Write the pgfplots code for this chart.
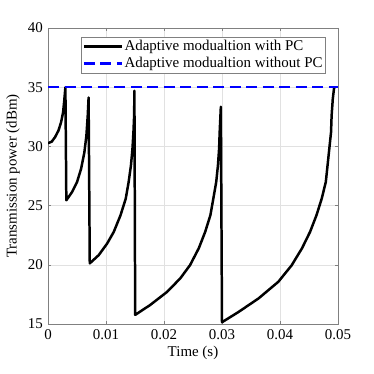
\documentclass[border=0pt]{standalone}
\usepackage{fontspec}
\setmainfont{Liberation Serif}
\usepackage{pgfplots}
\pgfplotsset{compat=1.18}

\definecolor{gridgray}{RGB}{225,225,225}
\definecolor{axgray}{RGB}{128,128,128}

\begin{document}
\fontsize{15}{18}\selectfont
\begin{tikzpicture}
\path[use as bounding box] (-48bp,-50bp) rectangle (326bp,324bp);
\begin{axis}[
  at={(0,0)}, anchor=south west,
  scale only axis,
  width=290bp, height=296bp,
  xmin=0, xmax=0.05, ymin=15, ymax=40,
  xtick={0,0.01,0.02,0.03,0.04,0.05},
  xticklabels={0,0.01,0.02,0.03,0.04,0.05},
  scaled x ticks=false,
  ytick={15,20,25,30,35,40},
  /pgf/number format/assume math mode=true,
  ticklabel style={font=\fontsize{15}{18}\selectfont},
  label style={font=\fontsize{15}{18}\selectfont},
  xlabel={Time (s)},
  ylabel={Transmission power (dBm)},
  xlabel style={yshift=3bp},
  ylabel style={yshift=-2bp},
  grid=major,
  grid style={gridgray, line width=0.6pt},
  axis line style={axgray, line width=0.6pt},
  tick style={axgray, line width=0.6pt},
  tick align=inside,
  major tick length=3bp,
  legend cell align=left,
  legend style={at={(0.958,0.97)}, anchor=north east,
    draw=axgray, line width=0.6pt,
    font=\fontsize{15}{16}\selectfont,
    inner sep=1.5pt, row sep=1.5pt,
    nodes={inner sep=1.5pt},
    legend image code/.code={\draw[#1] (0bp,0bp) -- (38bp,0bp);}},
]
\addplot[black, line width=2.5pt, line join=round] coordinates {
  (0,30.27) (0.00064,30.4) (0.0012,30.77) (0.0018,31.33) (0.00225,32.03) (0.0026,32.87) (0.0028,33.86) (0.0030,35.0)
  (0.00316,25.45)
  (0.00414,26.14) (0.0050,26.98) (0.0057,28.1) (0.00627,29.5) (0.00662,30.9) (0.00685,32.6) (0.0070,34.13)
  (0.0072,20.12)
  (0.00875,20.82) (0.0102,21.8) (0.01134,22.78) (0.0125,24.18) (0.0134,25.58) (0.0139,26.98) (0.0143,28.39) (0.01456,29.79) (0.01473,31.19) (0.01485,32.6) (0.0149,34.7)
  (0.01503,15.77)
  (0.0176,16.6) (0.0205,17.7) (0.0228,18.85) (0.0245,19.98) (0.0260,21.4) (0.0271,22.78) (0.0280,24.19) (0.0285,25.58) (0.0290,26.98) (0.0293,28.39) (0.0295,29.8) (0.0296,31.2) (0.0298,33.35)
  (0.0300,15.15)
  (0.0328,16.0) (0.0363,17.16) (0.0397,18.56) (0.0420,19.95) (0.0438,21.4) (0.0452,22.8) (0.0463,24.2) (0.0472,25.6) (0.0479,27.0) (0.0482,28.4) (0.0485,29.8) (0.0488,31.2) (0.0489,32.6) (0.0491,34.0) (0.0493,34.85) (0.0494,35.0)
};
\addlegendentry{Adaptive modualtion with PC}
\addplot[blue, line width=2.5pt, dash pattern=on 11bp off 5.5bp] coordinates {
  (0,35) (0.05,35)
};
\addlegendentry{Adaptive modualtion without PC}
\end{axis}
\end{tikzpicture}
\end{document}
